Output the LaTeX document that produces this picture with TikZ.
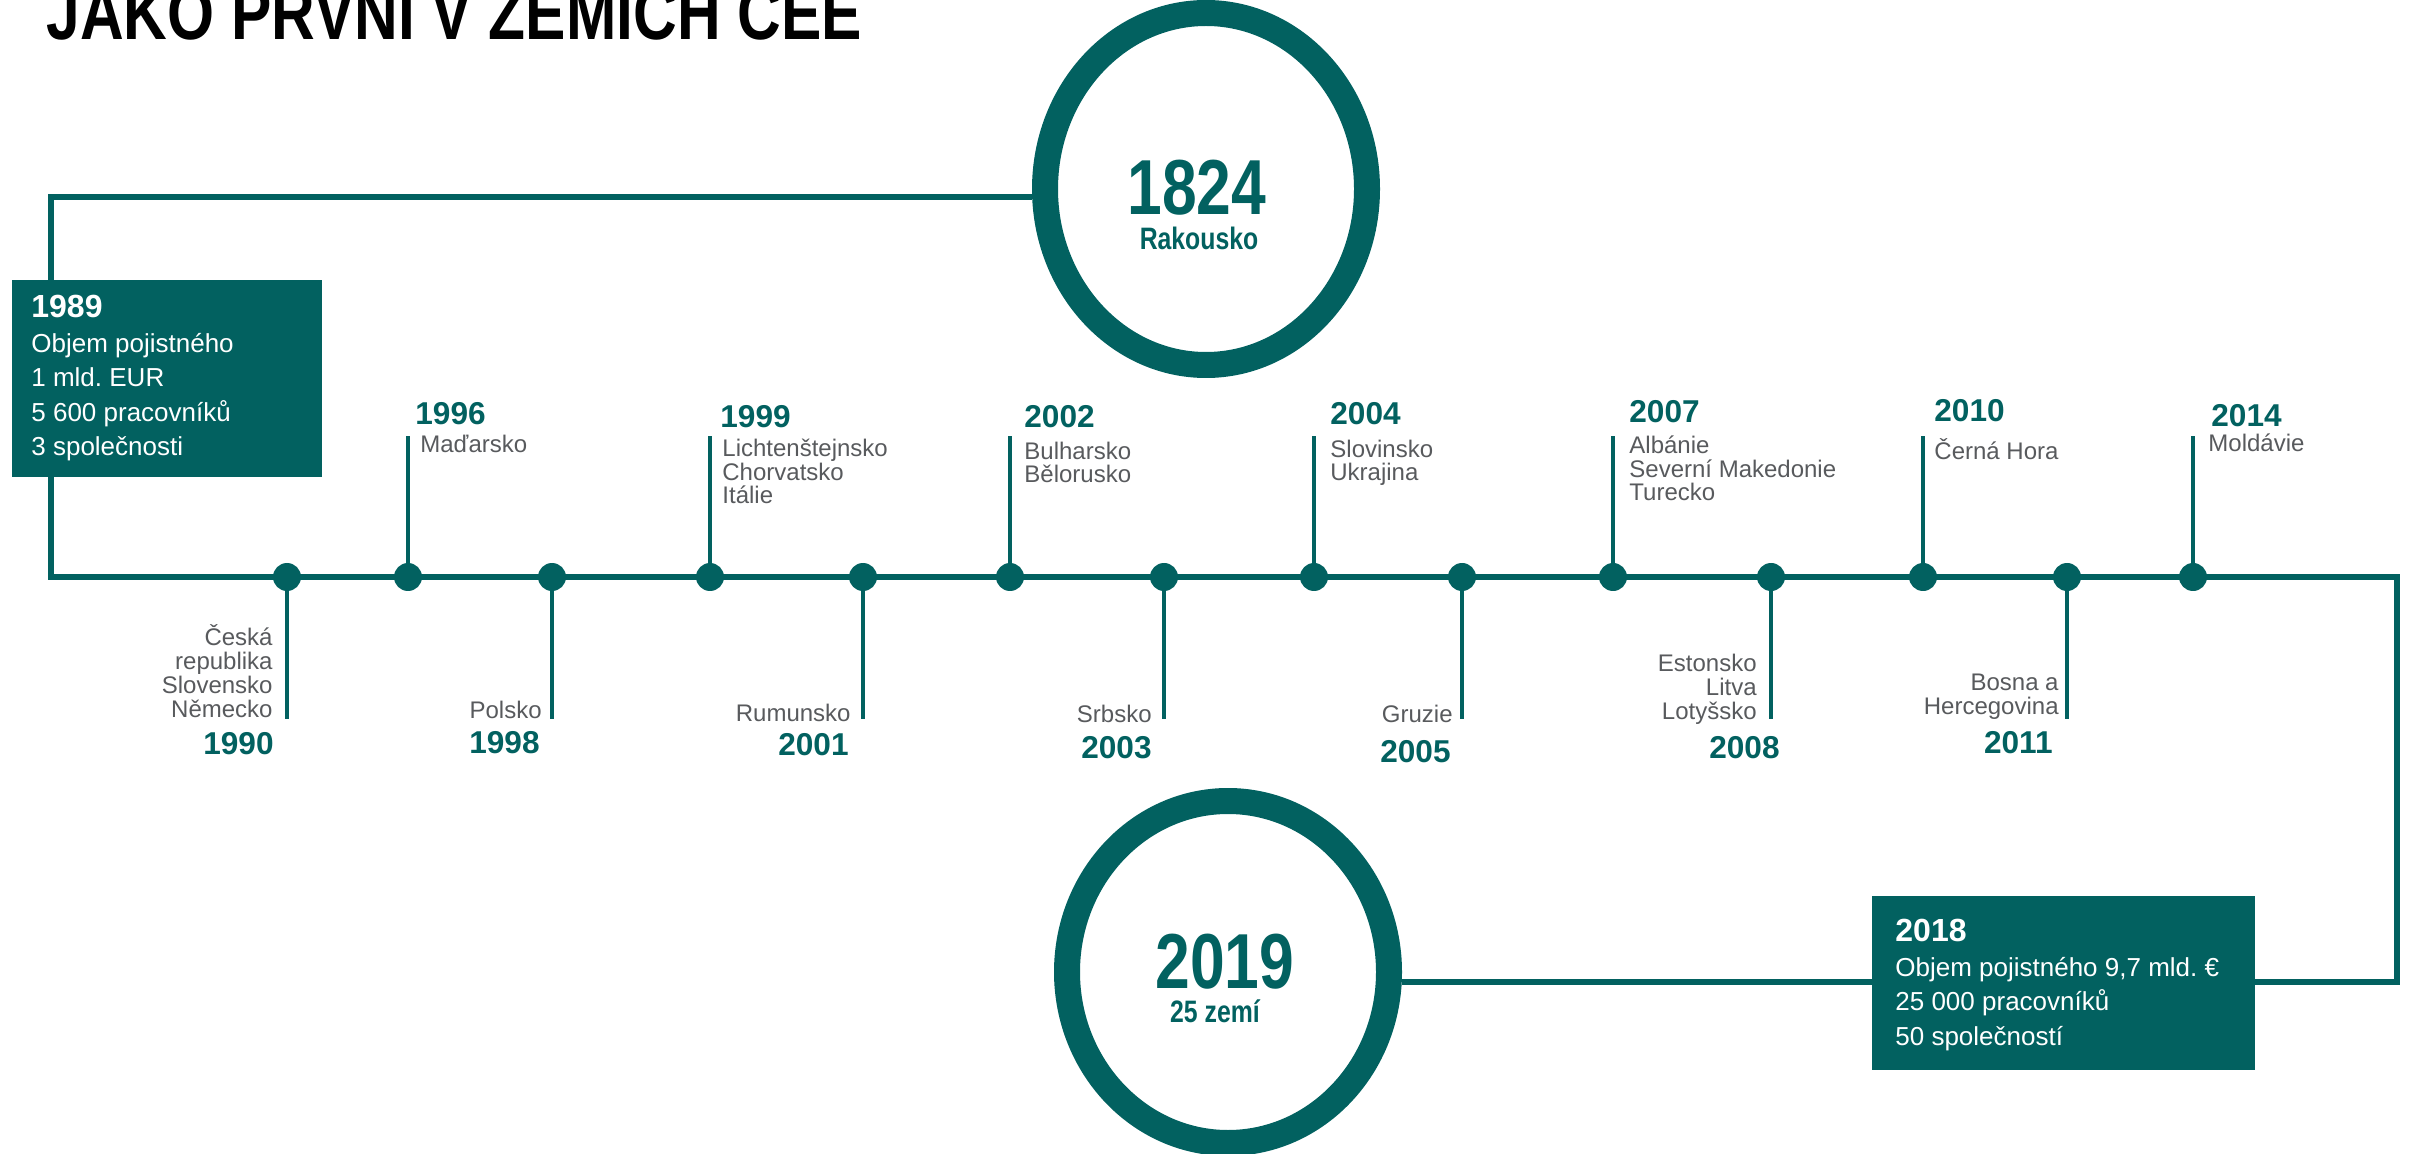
\documentclass[tikz,border=0pt]{standalone}
\usepackage{fontspec}
\setmainfont{Liberation Sans}
\newfontfamily\condfont[FakeStretch=0.8]{Liberation Sans}
\usetikzlibrary{shapes.geometric}
\definecolor{tealc}{RGB}{2,97,96}
\definecolor{grayc}{RGB}{88,90,93}
\frenchspacing
\begin{document}
\begin{tikzpicture}[x=0.5pt,y=-0.5pt,
  mainline/.style={line width=3pt, draw=tealc},
  stemline/.style={line width=2pt, draw=tealc},
  dotnode/.style={circle, fill=tealc, minimum size=14pt, inner sep=0pt},
  ringnode/.style={ellipse, draw=tealc, line width=13pt, minimum width=161pt, inner sep=0pt},
  boxnode/.style={rectangle, fill=tealc, inner sep=0pt, anchor=north west},
  yearup/.style={anchor=base west, inner sep=0pt, text=tealc, font=\fontsize{15.8}{16}\selectfont\bfseries},
  yeardown/.style={anchor=base east, inner sep=0pt, text=tealc, font=\fontsize{15.8}{16}\selectfont\bfseries},
  ctryup/.style={anchor=base west, inner sep=0pt, text=grayc, align=left, font=\fontsize{12}{11.9}\selectfont},
  ctrydown/.style={anchor=base east, inner sep=0pt, text=grayc, align=right, font=\fontsize{12}{11.9}\selectfont},
  boxtext/.style={anchor=base west, inner sep=0pt, text=white, align=left, font=\fontsize{13}{17.25}\selectfont\frenchspacing},
  bignum/.style={anchor=base, inner sep=0pt, text=tealc, font=\condfont\bfseries\fontsize{39}{40}\selectfont},
  subnum/.style={anchor=base, inner sep=0pt, text=tealc, font=\condfont\bfseries\fontsize{15.5}{16}\selectfont},
  titletext/.style={anchor=base west, inner sep=0pt, text=black, font=\condfont\bfseries\fontsize{37.8}{40}\selectfont}
]
\useasboundingbox (0,0) rectangle (2414,1154);

% title
\node[titletext] (title) at (46,40) {JAKO PRVNÍ V ZEMÍCH CEE};

% rings
\node[ringnode, minimum height=176pt] (ring1) at (1206,189) {};
\node[ringnode, minimum height=171pt] (ring2) at (1228,972) {};

% main path
\coordinate (tl) at (51,197);
\coordinate (bl) at (51,577);
\coordinate (br) at (2397,577);
\coordinate (rb) at (2397,982);
\draw[mainline] (ring1.west |- tl) -- (tl) -- (bl) -- (br) -- (rb) -- (ring2.east |- rb);

% dots
\foreach \n/\x in {1990/287,1996/408,1998/552,1999/710,2001/863,2002/1010,2003/1164,2004/1314,2005/1462,2007/1613,2008/1771,2010/1923,2011/2067,2014/2193}
  \node[dotnode] (d\n) at (\x,577) {};

% stems up
\foreach \n/\x in {1996/408,1999/710,2002/1010,2004/1314,2007/1613,2010/1923,2014/2193}{
  \coordinate (s\n) at (\x,436);
  \draw[stemline] (d\n) -- (s\n);
}
% stems down
\foreach \n/\x in {1990/287,1998/552,2001/863,2003/1164,2005/1462,2008/1771,2011/2067}{
  \coordinate (s\n) at (\x,719);
  \draw[stemline] (d\n) -- (s\n);
}

% boxes
\node[boxnode, minimum width=155pt, minimum height=98.5pt] (box1989) at (12,280) {};
\node[boxtext] (t1989) at (31,456) {{\fontsize{16}{17.25}\selectfont\bfseries 1989}\\Objem pojistného\\1 mld. EUR\\5 600 pracovníků\\3 společnosti};
\node[boxnode, minimum width=191.5pt, minimum height=87pt] (box2018) at (1872,896) {};
\node[boxtext] (t2018) at (1895,1045) {{\fontsize{16}{17.25}\selectfont\bfseries 2018}\\Objem pojistného 9,7 mld. €\\25 000 pracovníků\\50 společností};

% ring texts
\node[bignum] (y1824) at (1197,215) {1824};
\node[subnum] (rak) at (1199,250) {Rakousko};
\node[bignum] (y2019) at (1225,988) {2019};
\node[subnum] (zemi) at (1215,1022) {25 zemí};

% upper labels
\node[yearup] (l1996) at (415,425) {1996};
\node[ctryup] (c1996) at (420,453) {Maďarsko};
\node[yearup] (l1999) at (720,428) {1999};
\node[ctryup] (c1999) at (722,504) {Lichtenštejnsko\\Chorvatsko\\Itálie};
\node[yearup] (l2002) at (1024,428) {2002};
\node[ctryup] (c2002) at (1024,483) {Bulharsko\\Bělorusko};
\node[yearup] (l2004) at (1330,425) {2004};
\node[ctryup] (c2004) at (1330,481) {Slovinsko\\Ukrajina};
\node[yearup] (l2007) at (1629,423) {2007};
\node[ctryup] (c2007) at (1629,501) {Albánie\\Severní Makedonie\\Turecko};
\node[yearup] (l2010) at (1934,422) {2010};
\node[ctryup] (c2010) at (1934,460) {Černá Hora};
\node[yearup] (l2014) at (2211,427) {2014};
\node[ctryup] (c2014) at (2208,452) {Moldávie};

% lower labels
\node[ctrydown] (c1990) at (273,717) {Česká\\republika\\Slovensko\\Německo};
\node[yeardown] (l1990) at (274,754) {1990};
\node[ctrydown] (c1998) at (542,718) {Polsko};
\node[yeardown] (l1998) at (540,753) {1998};
\node[ctrydown] (c2001) at (851,721) {Rumunsko};
\node[yeardown] (l2001) at (849,755) {2001};
\node[ctrydown] (c2003) at (1152,722) {Srbsko};
\node[yeardown] (l2003) at (1152,758) {2003};
\node[ctrydown] (c2005) at (1453,722) {Gruzie};
\node[yeardown] (l2005) at (1451,762) {2005};
\node[ctrydown] (c2008) at (1757,719) {Estonsko\\Litva\\Lotyšsko};
\node[yeardown] (l2008) at (1780,758) {2008};
\node[ctrydown] (c2011) at (2059,714) {Bosna a\\Hercegovina};
\node[yeardown] (l2011) at (2053,753) {2011};
\end{tikzpicture}
\end{document}
